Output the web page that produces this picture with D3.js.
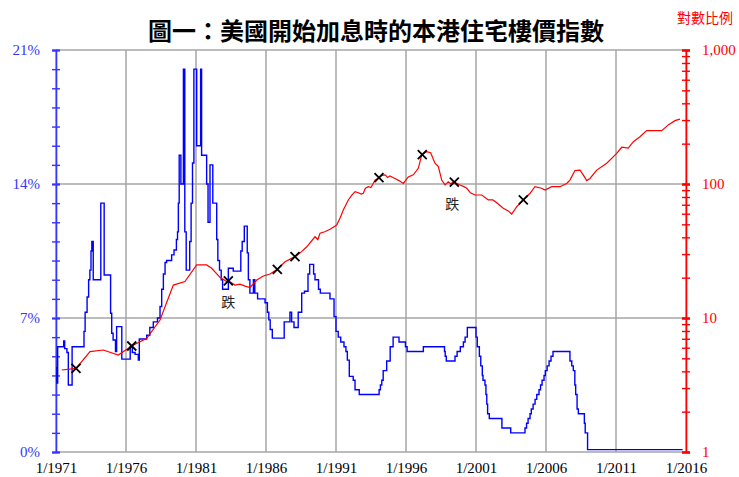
<!DOCTYPE html>
<html><head><meta charset="utf-8">
<script src="https://cdn.jsdelivr.net/npm/d3@7"></script>
<style>
html,body{margin:0;padding:0;background:#fff;}
svg{display:block;}
</style></head>
<body>
<svg id="chart" width="739" height="477"></svg>
<script>
// Chart text
const titleText = "圖一：美國開始加息時的本港住宅樓價指數";
const scaleNote = "對數比例";
const fallLabel = "跌";

// Axis ticks
const yearTicks = [1971, 1976, 1981, 1986, 1991, 1996, 2001, 2006, 2011, 2016];
const rateTicks = [0, 7, 14, 21];
const indexTicks = [1, 10, 100, 1000];

// US policy rate (%), [year, value], holds until the next entry
const rateSeries = [
  [1971.00, 4.4], [1971.06, 3.6], [1971.12, 5.5], [1971.55, 5.8], [1971.62, 5.4],
  [1971.78, 5.2], [1971.88, 3.5], [1972.15, 5.5], [1973.00, 6.3], [1973.08, 7.3],
  [1973.22, 8.1], [1973.33, 9.0], [1973.42, 9.5], [1973.50, 10.5], [1973.56, 11.0],
  [1973.66, 9.0], [1974.20, 13.0], [1974.44, 9.25], [1974.90, 7.25], [1974.98, 6.2],
  [1975.08, 5.85], [1975.25, 5.25], [1975.33, 6.55], [1975.70, 4.85], [1976.30, 5.5],
  [1976.45, 5.2], [1976.65, 5.1], [1976.88, 4.8], [1976.95, 5.9], [1977.48, 6.1],
  [1977.70, 6.5], [1977.95, 6.8], [1978.25, 7.0], [1978.43, 7.6], [1978.55, 8.5],
  [1978.67, 9.3], [1978.79, 9.9], [1978.90, 10.0], [1979.26, 10.3], [1979.43, 10.55],
  [1979.60, 11.1], [1979.68, 11.5], [1979.74, 13.0], [1979.80, 15.5], [1979.92, 14.0],
  [1980.10, 20.0], [1980.20, 11.5], [1980.30, 9.5], [1980.55, 11.0], [1980.65, 13.0],
  [1980.75, 15.1], [1980.85, 20.0], [1981.05, 16.0], [1981.33, 20.0], [1981.40, 15.5],
  [1981.76, 14.0], [1981.86, 12.0], [1982.00, 15.0], [1982.20, 13.0], [1982.48, 11.1],
  [1982.56, 10.0], [1982.68, 9.5], [1982.80, 9.0], [1982.90, 8.5], [1983.31, 9.6],
  [1983.66, 9.45], [1984.20, 10.5], [1984.30, 11.0], [1984.45, 11.8], [1984.66, 10.4],
  [1984.74, 9.0], [1984.85, 8.3], [1985.10, 9.0], [1985.20, 8.3], [1985.40, 8.0],
  [1985.93, 7.8], [1986.10, 7.3], [1986.20, 6.9], [1986.30, 6.4], [1986.45, 5.95],
  [1987.30, 6.8], [1987.71, 7.3], [1987.83, 6.8], [1988.00, 6.5], [1988.30, 7.3],
  [1988.55, 8.3], [1988.75, 8.4], [1989.00, 9.3], [1989.12, 9.8], [1989.40, 9.3],
  [1989.50, 9.0], [1989.75, 8.5], [1989.88, 8.3], [1990.57, 8.0], [1990.86, 7.07],
  [1991.00, 6.3], [1991.16, 6.0], [1991.34, 5.75], [1991.57, 5.5], [1991.71, 5.25],
  [1991.81, 4.8], [1991.95, 3.95], [1992.23, 3.75], [1992.36, 3.25], [1992.66, 3.0],
  [1994.08, 3.25], [1994.17, 3.5], [1994.27, 3.75], [1994.37, 4.25], [1994.62, 4.75],
  [1994.87, 5.5], [1995.08, 6.0], [1995.50, 5.75], [1995.96, 5.5], [1996.08, 5.25],
  [1997.24, 5.5], [1998.75, 5.25], [1998.80, 5.0], [1998.88, 4.75], [1999.50, 5.0],
  [1999.65, 5.25], [1999.88, 5.5], [2000.10, 5.75], [2000.22, 6.0], [2000.38, 6.5],
  [2001.00, 6.0], [2001.09, 5.5], [2001.24, 5.0], [2001.34, 4.5], [2001.45, 4.0],
  [2001.50, 3.75], [2001.64, 3.5], [2001.71, 3.0], [2001.77, 2.5], [2001.83, 2.0],
  [2001.95, 1.75], [2002.85, 1.25], [2003.48, 1.0], [2004.50, 1.25], [2004.61, 1.5],
  [2004.72, 1.75], [2004.86, 2.0], [2004.95, 2.25], [2005.08, 2.5], [2005.22, 2.75],
  [2005.34, 3.0], [2005.50, 3.25], [2005.61, 3.5], [2005.72, 3.75], [2005.86, 4.0],
  [2005.95, 4.25], [2006.08, 4.5], [2006.22, 4.75], [2006.36, 5.0], [2006.50, 5.25],
  [2007.71, 4.75], [2007.84, 4.5], [2007.95, 4.25], [2008.06, 3.5], [2008.12, 3.0],
  [2008.22, 2.25], [2008.31, 2.0], [2008.74, 1.5], [2008.80, 1.0], [2008.97, 0.125],
  [2015.76, 0.125]
];

// Hong Kong residential price index (log scale), [year, value]
const priceSeries = [
  [1971.41, 4.09], [1972.43, 4.21], [1973.43, 5.61], [1974.38, 5.77], [1975.45, 5.29],
  [1976.41, 6.18], [1977.48, 7.06], [1978.43, 9.66], [1979.38, 17.6], [1980.21, 18.7],
  [1981.05, 24.9], [1981.76, 24.9], [1982.12, 23.5], [1982.71, 20.1], [1983.19, 18.7],
  [1983.31, 18.9], [1983.79, 17.6], [1984.14, 17.9], [1984.50, 17.3], [1984.86, 16.9],
  [1985.34, 19.2], [1985.81, 20.6], [1986.29, 21.3], [1986.81, 23.1], [1987.36, 26.3],
  [1988.07, 28.7], [1988.50, 31.0], [1988.91, 34.0], [1989.50, 40.4], [1989.70, 38.5],
  [1989.86, 42.9], [1990.20, 44.0], [1990.57, 45.9], [1991.05, 49.4], [1991.30, 56.0],
  [1991.52, 63.9], [1991.88, 76.0], [1992.10, 82.0], [1992.36, 87.7], [1992.60, 86.0],
  [1992.80, 84.0], [1992.95, 85.3], [1993.10, 93.0], [1993.31, 95.5], [1993.50, 94.0],
  [1993.79, 107], [1994.14, 113], [1994.30, 116], [1994.50, 117], [1994.70, 112],
  [1994.85, 115], [1995.21, 110], [1995.50, 106], [1995.81, 101], [1996.16, 113],
  [1996.52, 117], [1996.88, 131], [1997.12, 165], [1997.48, 174], [1997.76, 171],
  [1998.07, 143], [1998.31, 135], [1998.55, 107], [1998.79, 98.4], [1999.02, 104],
  [1999.20, 100], [1999.38, 104], [1999.86, 98.4], [2000.10, 96.0], [2000.34, 92.9],
  [2000.60, 86.0], [2000.93, 82.8], [2001.41, 82.8], [2001.88, 76.0], [2002.20, 76.0],
  [2002.48, 72.5], [2002.95, 65.9], [2003.30, 63.0], [2003.55, 59.7], [2003.91, 67.7],
  [2004.38, 76.0], [2004.60, 80.0], [2004.86, 85.3], [2005.21, 95.5], [2005.69, 92.9],
  [2005.93, 90.1], [2006.41, 95.5], [2007.00, 95.5], [2007.48, 101], [2007.71, 107],
  [2008.07, 126], [2008.43, 127], [2008.66, 117], [2008.91, 106], [2009.14, 110],
  [2009.62, 127], [2010.34, 143], [2011.05, 169], [2011.41, 188], [2011.88, 185],
  [2012.24, 207], [2012.71, 225], [2013.19, 250], [2013.66, 250], [2014.26, 250],
  [2014.74, 276], [2015.21, 297], [2015.57, 305]
];

// Start of each US rate-hike cycle
const hikeDates = [1972.43, 1976.41, 1983.31, 1986.81, 1988.07, 1994.07, 1997.16, 1999.45, 2004.38];
// Hike cycles followed by a price fall
const fallDates = [1983.31, 1999.31];

const BLUE = "#0000ff", AXIS_BLUE = "#3535ff", RED = "#ff0000", GRID = "#a6a6a6";
const serif = "'Liberation Serif','Times New Roman',serif";
const cjk = "'Noto Sans CJK TC','Noto Sans CJK SC',sans-serif";

const svg = d3.select("#chart");
const L = 56, R = 686, T = 50, B = 452;

const x = d3.scaleLinear().domain([1971, 2016]).range([L, R]);
const yRate = d3.scaleLinear().domain([0, 21]).range([B, T]);
const yIndex = d3.scaleLog().domain([1, 1000]).range([B, T]);

// Grid
const grid = svg.append("g").attr("stroke", GRID).attr("stroke-width", 1.5);
grid.selectAll("line.v").data(yearTicks).join("line")
  .attr("x1", d => x(d)).attr("x2", d => x(d)).attr("y1", T).attr("y2", B);
grid.selectAll("line.h").data(rateTicks).join("line")
  .attr("x1", L).attr("x2", R).attr("y1", d => yRate(d)).attr("y2", d => yRate(d));

// Left axis: rate (%)
const leftAxis = svg.append("g").attr("transform", `translate(${L},0)`)
  .call(d3.axisLeft(yRate).tickValues(d3.range(0, 22, 1)).tickSize(4).tickPadding(12)
    .tickFormat(d => rateTicks.includes(d) ? d + "%" : ""));
leftAxis.select(".domain").attr("stroke", AXIS_BLUE).attr("stroke-width", 1.6);
leftAxis.selectAll(".tick line").attr("stroke", AXIS_BLUE).attr("x1", 4).attr("stroke-width", 1.4);
leftAxis.selectAll(".tick").filter(d => rateTicks.includes(d)).select("line").attr("stroke-width", 2.2);
leftAxis.selectAll(".tick text").attr("fill", AXIS_BLUE).attr("font-family", serif)
  .attr("font-size", 15).attr("dy", "0.33em");

// Right axis: price index (log)
const logTicks = [];
[1, 10, 100].forEach(b => d3.range(1, 10).forEach(m => logTicks.push(b * m)));
logTicks.push(1000);
const rightAxis = svg.append("g").attr("transform", `translate(${R},0)`)
  .call(d3.axisRight(yIndex).tickValues(logTicks).tickSize(4).tickPadding(12)
    .tickFormat(d => indexTicks.includes(d) ? d3.format(",")(d) : ""));
rightAxis.select(".domain").attr("stroke", RED).attr("stroke-width", 1.6);
rightAxis.selectAll(".tick line").attr("stroke", RED).attr("x1", -4).attr("stroke-width", 1.4);
rightAxis.selectAll(".tick").filter(d => indexTicks.includes(d)).select("line").attr("stroke-width", 2.6);
rightAxis.selectAll(".tick text").attr("fill", RED).attr("font-family", serif)
  .attr("font-size", 15).attr("dy", "0.33em");

// Bottom axis: years
const bottomAxis = svg.append("g").attr("transform", `translate(0,${B})`)
  .call(d3.axisBottom(x).tickValues(yearTicks).tickSize(0).tickPadding(10)
    .tickFormat(d => "1/" + d));
bottomAxis.select(".domain").remove();
bottomAxis.selectAll(".tick text").attr("fill", "#000").attr("font-family", serif)
  .attr("font-size", 15);

// Rate line
svg.append("path").datum(rateSeries)
  .attr("fill", "none").attr("stroke", BLUE).attr("stroke-width", 1.4)
  .attr("d", d3.line().x(d => x(d[0])).y(d => yRate(d[1])).curve(d3.curveStepAfter));

// Price index line
svg.append("path").datum(priceSeries)
  .attr("fill", "none").attr("stroke", RED).attr("stroke-width", 1.2)
  .attr("d", d3.line().x(d => x(d[0])).y(d => yIndex(d[1])));

// Price index at any date, interpolated in log space
function priceAt(t) {
  const i = d3.bisector(d => d[0]).right(priceSeries, t);
  if (i <= 0) return priceSeries[0][1];
  if (i >= priceSeries.length) return priceSeries[priceSeries.length - 1][1];
  const a = priceSeries[i - 1], b = priceSeries[i];
  const k = (t - a[0]) / (b[0] - a[0]);
  return Math.exp(Math.log(a[1]) + k * (Math.log(b[1]) - Math.log(a[1])));
}

// Hike markers
const s = 4.5;
const marks = svg.append("g").attr("stroke", "#000").attr("stroke-width", 1.8);
hikeDates.forEach(t => {
  const cx = x(t), cy = yIndex(priceAt(t));
  marks.append("line").attr("x1", cx - s).attr("y1", cy - s).attr("x2", cx + s).attr("y2", cy + s);
  marks.append("line").attr("x1", cx - s).attr("y1", cy + s).attr("x2", cx + s).attr("y2", cy - s);
});

// Fall labels
svg.selectAll("text.fall").data(fallDates).join("text")
  .attr("class", "fall")
  .attr("x", d => x(d)).attr("y", d => yIndex(priceAt(d)) + 26)
  .attr("text-anchor", "middle").attr("font-family", cjk).attr("font-size", 14)
  .attr("fill", "#222").text(fallLabel);

// Title and scale note
svg.append("text").attr("x", 376).attr("y", 40).attr("text-anchor", "middle")
  .attr("font-family", cjk).attr("font-weight", 700).attr("font-size", 24)
  .attr("fill", "#000").text(titleText);
svg.append("text").attr("x", 677).attr("y", 23)
  .attr("font-family", cjk).attr("font-size", 14).attr("fill", RED).text(scaleNote);
</script>
</body></html>
